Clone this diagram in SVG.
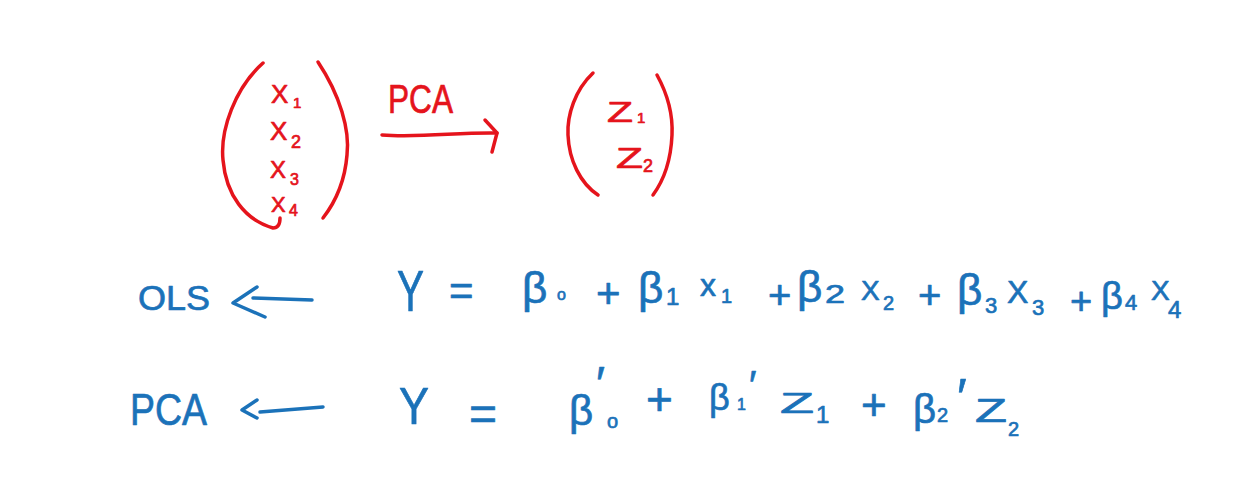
<svg xmlns="http://www.w3.org/2000/svg" width="1248" height="486" viewBox="0 0 1248 486">
<style>
  text { font-family: "Liberation Sans", Arial, sans-serif; stroke-width: 0.7; stroke-linejoin: round; }
  .r { fill: #e5141c; stroke: #e5141c; }
  .b { fill: #1b72b9; stroke: #1b72b9; }
  .rs { fill: none; stroke: #e5141c; stroke-width: 3.5; stroke-linecap: round; stroke-linejoin: round; }
  .bs { fill: none; stroke: #1b72b9; stroke-width: 3.5; stroke-linecap: round; stroke-linejoin: round; }
</style>
<rect width="1248" height="486" fill="#ffffff"/>

<g id="input-vector">
  <path class="rs" d="M263,63 C235,88 220,130 223,160 C226,195 245,220 273,228 C278,228 280,224 280,218"/>
  <path class="rs" d="M318,62 C340,95 350,130 347,155 C345,180 337,200 323,218"/>
  <text class="r" x="271" y="103" font-size="26">X<tspan x="293" y="108" font-size="15">1</tspan></text>
  <text class="r" x="270" y="140" font-size="26">X<tspan x="291" y="148" font-size="18">2</tspan></text>
  <text class="r" x="270" y="178" font-size="24">X<tspan x="290" y="185" font-size="16">3</tspan></text>
  <text class="r" x="271" y="212" font-size="22">X<tspan x="289" y="216" font-size="16">4</tspan></text>
</g>

<g id="output-vector">
  <path class="rs" d="M593,73 C575,90 567,115 568,135 C569,160 580,183 598,195"/>
  <path class="rs" d="M657,75 C668,95 673,115 672,135 C671,158 664,180 653,195"/>
  <text class="r" x="607" y="122" font-size="30"><tspan textLength="26" lengthAdjust="spacingAndGlyphs">Z</tspan><tspan x="637" y="123" font-size="15">1</tspan></text>
  <text class="r" x="616" y="168" font-size="30"><tspan textLength="27" lengthAdjust="spacingAndGlyphs">Z</tspan><tspan x="643" y="172" font-size="18">2</tspan></text>
</g>

<g id="pca-transform">
  <text class="r" x="388" y="113" font-size="40" textLength="65" lengthAdjust="spacingAndGlyphs">PCA</text>
</g>

<g id="connectors">
  <path class="rs" d="M382,135 C420,138 460,132 497,133"/>
  <path class="rs" d="M485,120 L497,133 L492,152"/>
  <path class="bs" d="M253,298 L312,300"/>
  <path class="bs" d="M257,287 L233,303 L265,317"/>
  <path class="bs" d="M260,412 L323,407"/>
  <path class="bs" d="M257,400 L242,410 L257,418"/>
</g>

<g id="ols-label">
  <text class="b" x="138" y="310" font-size="35" textLength="72" lengthAdjust="spacingAndGlyphs">OLS</text>
</g>

<g id="ols-equation">
  <text class="b" x="397" y="311" font-size="58" textLength="27" lengthAdjust="spacingAndGlyphs">Y</text>
  <text class="b" x="449" y="305" font-size="42">=</text>
  <text class="b" x="522" y="303" font-size="44">β<tspan x="557" y="300" font-size="16">o</tspan></text>
  <text class="b" x="596" y="308" font-size="42">+</text>
  <text class="b" x="638" y="303" font-size="44">β<tspan x="666" y="305" font-size="24">1</tspan></text>
  <text class="b" x="700" y="296" font-size="32">x<tspan x="721" y="303" font-size="20">1</tspan></text>
  <text class="b" x="768" y="309" font-size="40">+</text>
  <text class="b" x="797" y="302" font-size="44">β<tspan x="825" y="303" font-size="26" textLength="20" lengthAdjust="spacingAndGlyphs">2</tspan></text>
  <text class="b" x="861" y="300" font-size="28">X<tspan x="883" y="310" font-size="20">2</tspan></text>
  <text class="b" x="918" y="309" font-size="40">+</text>
  <text class="b" x="957" y="305" font-size="44">β<tspan x="985" y="313" font-size="22">3</tspan></text>
  <text class="b" x="1007" y="303" font-size="32">X<tspan x="1032" y="315" font-size="22">3</tspan></text>
  <text class="b" x="1070" y="314" font-size="38">+</text>
  <text class="b" x="1101" y="309" font-size="38">β<tspan x="1125" y="310" font-size="22">4</tspan></text>
  <text class="b" x="1151" y="300" font-size="28">X<tspan x="1168" y="318" font-size="24">4</tspan></text>
</g>

<g id="pca-label">
  <text class="b" x="130" y="425" font-size="44" textLength="77" lengthAdjust="spacingAndGlyphs">PCA</text>
</g>

<g id="pca-equation">
  <text class="b" x="399" y="424" font-size="52" textLength="30" lengthAdjust="spacingAndGlyphs">Y</text>
  <text class="b" x="469" y="430" font-size="48">=</text>
  <text class="b" x="569" y="425" font-size="42">β<tspan x="596" y="400" font-size="48">′</tspan><tspan x="607" y="428" font-size="20">o</tspan></text>
  <text class="b" x="646" y="415" font-size="46">+</text>
  <text class="b" x="709" y="410" font-size="36">β<tspan x="737" y="410" font-size="16">1</tspan><tspan x="749" y="399" font-size="40">′</tspan></text>
  <text class="b" x="780" y="413" font-size="30"><tspan textLength="34" lengthAdjust="spacingAndGlyphs">Z</tspan><tspan x="816" y="423" font-size="24">1</tspan></text>
  <text class="b" x="861" y="420" font-size="44">+</text>
  <text class="b" x="913" y="423" font-size="40">β<tspan x="937" y="422" font-size="20">2</tspan><tspan x="957" y="415" font-size="52">′</tspan></text>
  <text class="b" x="975" y="422" font-size="33"><tspan textLength="32" lengthAdjust="spacingAndGlyphs">Z</tspan><tspan x="1008" y="436" font-size="20">2</tspan></text>
</g>
</svg>
